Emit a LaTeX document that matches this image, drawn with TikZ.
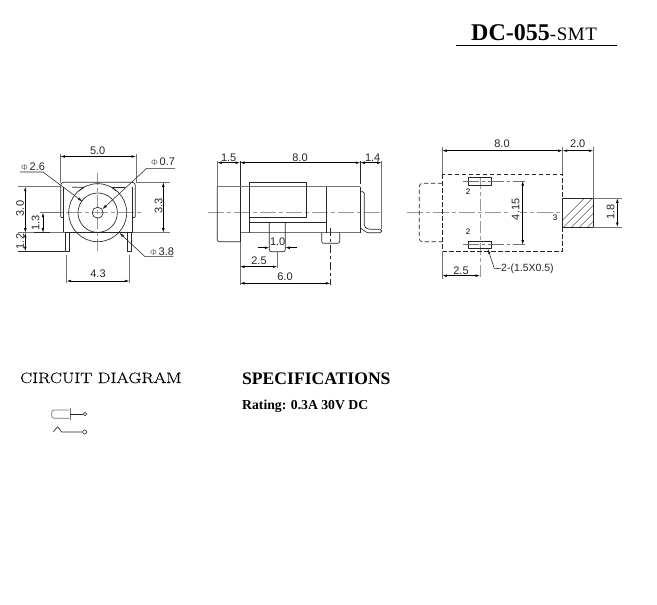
\documentclass[tikz,border=0pt]{standalone}
\usepackage{fontspec}
\setmainfont{Liberation Serif}
\newfontfamily\dimfont{Liberation Sans}
\newfontfamily\lmfont[FakeStretch=1.2,FakeBold=0.35]{Latin Modern Roman}
\usetikzlibrary{arrows.meta,patterns}
\definecolor{ink}{gray}{0.15}
\definecolor{ctr}{gray}{0.6}
\definecolor{ext}{gray}{0.45}
\tikzset{
  part/.style={draw=ink,line width=0.65pt,line join=round},
  partgray/.style={draw=ext,line width=0.9pt},
  center/.style={draw=ctr,line width=0.9pt,dash pattern=on 16pt off 3pt on 4pt off 3pt},
  extline/.style={draw=ext,line width=0.7pt},
  dimline/.style={draw=black,line width=0.55pt,{Latex[length=4.5pt,width=2.6pt]}-{Latex[length=4.5pt,width=2.6pt]}},
  leader/.style={draw=ink,line width=0.55pt,-{Latex[length=5pt,width=2.8pt]}},
  dashedpart/.style={draw=ink,line width=0.7pt,dash pattern=on 4.5pt off 2.5pt},
  lab/.style={font=\dimfont\fontsize{11}{12}\selectfont,text=ink,inner sep=0pt},
  tiny/.style={font=\dimfont\fontsize{8}{9}\selectfont,text=black,inner sep=0pt},
}
\begin{document}
\begin{tikzpicture}[x=1pt,y=-1pt]
\useasboundingbox[fill=white] (0,0) rectangle (657,605);

% ---- title
\node[anchor=base west,inner sep=0pt] (title) at (471,41) {\fontsize{24}{26}\selectfont\bfseries DC-055\fontsize{19}{20}\mdseries\addfontfeature{LetterSpace=3} -SMT};
\coordinate (tl) at (456,45.5); \coordinate (tr) at (617,45.5);
\draw[line width=1.8pt] (tl) -- (tr);

% ---- left view
\coordinate (C) at (97.7,212.7);
\draw[center] (40,212.7) -- (144,212.7);
\draw[center,dash pattern=on 12pt off 3pt on 4pt off 3pt] (97.7,173) -- (97.7,253);
\draw[part,rounded corners=3pt] (60.7,217) -- (60.7,182.3) -- (135.3,182.3) -- (135.3,217);
\draw[part] (60.7,217) -- (63,217) -- (63,186.7);
\draw[part] (63,186.7) -- (63,232.7) -- (132.7,232.7) -- (132.7,186.7);
\draw[part] (132.7,217) -- (135.3,217);
\draw[part] (72,187.3) -- (84,187.3) -- (79,191);
\draw[part] (111.7,187.3) -- (125,187.3);
\draw[part] (111.7,187.3) -- (116,191);
\draw[part] (65,232.7) -- (65,251) -- (69,251) -- (69,232.7);
\draw[part] (127.3,232.7) -- (127.3,251) -- (131.7,251) -- (131.7,232.7);
\draw[part] (C) circle (29);
\draw[part] (C) circle (19.7);
\draw[part] (C) circle (5.5);

\coordinate (a1) at (60.3,154); \coordinate (a2) at (60.3,183);
\coordinate (b1) at (136,154); \coordinate (b2) at (136,183);
\draw[extline] (a1) -- (a2) (b1) -- (b2);
\draw[dimline] (60.3,156.5) -- (136,156.5);
\node[lab] (d50) at (97.7,151) {5.0};

\draw[extline] (18,186.7) -- (60.3,186.7);
\draw[extline] (18,232.7) -- (65,232.7);
\draw[draw=ink,line width=0.7pt] (18,251.3) -- (65,251.3);
\draw[dimline] (25.3,186.7) -- (25.3,232.7);
\draw[dimline] (25.3,232.7) -- (25.3,251.3);
\node[lab,rotate=90] (d30) at (20,208.5) {3.0};
\node[lab,rotate=90] (d12) at (20,241.5) {1.2};
\draw[extline] (40,212.7) -- (60,212.7);
\draw[draw=ink,line width=0.9pt] (34,232.7) -- (50,232.7);
\draw[dimline] (43,212.7) -- (43,232.7);
\node[lab,rotate=90] (d13) at (35.7,222.7) {1.3};

\draw[extline] (136,182.3) -- (170,182.3);
\draw[extline] (133,232.7) -- (170,232.7);
\draw[dimline] (163.3,182.3) -- (163.3,232.7);
\node[lab,rotate=90] (d33) at (158.7,206) {3.3};

\draw[extline] (66.7,255) -- (66.7,282.7);
\draw[extline] (129.3,255) -- (129.3,282.7);
\draw[dimline] (66.7,281) -- (129.3,281);
\node[lab] (d43) at (98,274) {4.3};

\coordinate (p26a) at (20,172); \coordinate (p26b) at (43,172); \coordinate (p26c) at (82.7,201.7);
\draw[leader] (p26a) -- (p26b) -- (p26c);
\coordinate (p07a) at (175,168.3); \coordinate (p07b) at (146.7,168.3); \coordinate (p07c) at (102.3,209.3);
\draw[leader] (p07a) -- (p07b) -- (p07c);
\coordinate (p38a) at (173.3,256.7); \coordinate (p38b) at (145,256.7); \coordinate (p38c) at (119.3,232.7);
\draw[leader] (p38a) -- (p38b) -- (p38c);
\node[lab] (l26) at (33,166.7) {{\fontsize{8.5}{9}\selectfont\textcolor{ext}{Φ}}\,2.6};
\node[lab] (l07) at (163,162) {{\fontsize{8.5}{9}\selectfont\textcolor{ext}{Φ}}\,0.7};
\node[lab] (l38) at (162,251.7) {{\fontsize{8.5}{9}\selectfont\textcolor{ext}{Φ}}\,3.8};

% ---- middle view
\draw[center] (208,212.7) -- (380,212.7);
\draw[partgray] (217.3,186.7) -- (360.3,186.7);
\draw[partgray] (240,232.7) -- (360.3,232.7);
\draw[part,rounded corners=2pt] (217.3,186.7) -- (217.3,241.7) -- (240,241.7);
\draw[part] (240,186.7) -- (240,241.7);
\draw[part] (249.3,182.3) rectangle (306.3,217.3);
\draw[part] (249.3,217.3) -- (249.3,232.7);
\draw[part] (249.3,222.3) -- (326.7,222.3);
\draw[part] (326.7,186.7) -- (326.7,232.7);
\draw[part,rounded corners=2pt] (269.3,222.3) -- (269.3,251.7) -- (285.3,251.7) -- (285.3,222.3);
\draw[part,rounded corners=2pt] (321.7,232.7) -- (321.7,243.3) -- (339.7,243.3) -- (339.7,232.7);
\draw[part] (360.3,186.7) -- (360.3,232.7);
\draw[part,rounded corners=1.5pt] (360.7,191.7) -- (364.3,191.7) -- (364.3,226.7) -- (368.3,229.3) -- (381.7,229.3) -- (381.7,232.7) -- (366.7,232.7) -- (361,228.3);
\draw[draw=ink,line width=0.65pt,dash pattern=on 8pt off 3pt on 3pt off 3pt] (330.3,228) -- (330.3,285);

\draw[extline] (217.3,161) -- (217.3,186);
\draw[draw=ink,line width=0.8pt] (240,161) -- (240,186);
\draw[extline] (240,241.7) -- (240,285);
\draw[draw=ink,line width=0.7pt] (360.3,161) -- (360.3,184);
\draw[extline] (381.7,161) -- (381.7,229);
\draw[dimline] (217.3,162.7) -- (240,162.7);
\draw[dimline] (240,162.7) -- (360.3,162.7);
\draw[dimline] (360.3,162.7) -- (381.7,162.7);
\node[lab] (m15) at (228.7,157.3) {1.5};
\node[lab] (m80) at (300,157.3) {8.0};
\node[lab] (m14) at (372.7,157.3) {1.4};

\draw[draw=black,line width=0.55pt,-{Latex[length=4.5pt,width=2.6pt]}] (257.7,247.7) -- (269.3,247.7);
\draw[draw=black,line width=0.55pt,-{Latex[length=4.5pt,width=2.6pt]}] (297.3,247.7) -- (285.3,247.7);
\node[lab] (m10) at (277.7,241.7) {1.0};

\draw[extline] (277.3,251.7) -- (277.3,268);
\draw[dimline] (240,266.7) -- (277.3,266.7);
\node[lab] (m25) at (259,261) {2.5};
\draw[dimline] (240,283.3) -- (330.3,283.3);
\node[lab] (m60) at (285,276.7) {6.0};

% ---- right view
\draw[center] (406.7,212.7) -- (562,212.7);
\draw[center,dash pattern=on 12pt off 3pt on 4pt off 3pt] (480,177) -- (480,276.7);
\draw[dashedpart] (442.3,174.3) rectangle (562.7,251.3);
\draw[dashedpart,rounded corners=3pt] (442.3,183.3) -- (419.3,183.3) -- (419.3,241.7) -- (442.3,241.7);
\draw[part] (468.3,177.7) rectangle (491,185);
\draw[part] (468.3,241) rectangle (491,248.7);
\draw[ext,line width=0.7pt,dash pattern=on 16pt off 3pt on 3pt off 3pt] (463.3,181) -- (525,181);
\draw[ext,line width=0.7pt,dash pattern=on 16pt off 3pt on 3pt off 3pt] (463.3,244.7) -- (525,244.7);
\begin{scope}
\clip (562.7,198.3) rectangle (593.3,227);
\foreach \k in {-10,-2,...,70}
  \draw[ink,line width=0.4pt] (562.7+\k,230) -- (562.7+\k+35,195);
\end{scope}
\draw[part] (562.7,198.3) rectangle (593.3,227);

\draw[extline] (442.3,146.7) -- (442.3,174);
\draw[extline] (562.7,146.7) -- (562.7,174);
\draw[extline] (593.3,146.7) -- (593.3,198);
\draw[dimline] (442.3,150.7) -- (562.7,150.7);
\draw[dimline] (562.7,150.7) -- (593.3,150.7);
\node[lab] (r80) at (502,143.7) {8.0};
\node[lab] (r20) at (577.7,143.7) {2.0};

\draw[extline] (593.3,198.3) -- (621.7,198.3);
\draw[extline] (593.3,227) -- (621.7,227);
\draw[dimline] (617.3,198.3) -- (617.3,227);
\node[lab,rotate=90] (r18) at (610.7,211.7) {1.8};

\draw[dimline] (522.7,181) -- (522.7,244.7);
\node[lab,rotate=90,fill=white,inner sep=0.5pt] (r415) at (515.7,209.3) {4.15};
\node[tiny] (r2a) at (468,191.7) {2};
\node[tiny] (r2b) at (468,231.7) {2};
\node[tiny] (r3) at (555,218) {3};

\draw[extline] (442.3,251.3) -- (442.3,279);
\draw[dimline] (442.3,275.7) -- (480,275.7);
\node[lab] (r25) at (461,270.7) {2.5};

\node[lab,anchor=west,font=\dimfont\fontsize{10.5}{12}\selectfont] (padlab) at (501,268.7) {2-(1.5X0.5)};
\coordinate (pl1) at (494.3,268.3); \coordinate (pl2) at (487.7,248.7);
\draw[leader] (padlab.west) -- (pl1) -- (pl2);

% ---- headings
\node[anchor=base west,inner sep=0pt] (circ) at (20,383) {\lmfont\fontsize{15}{17}\selectfont CIRCUIT DIAGRAM};
\node[anchor=base west,inner sep=0pt] (spec) at (242,384) {\fontsize{17.6}{18}\selectfont\bfseries SPECIFICATIONS};
\node[anchor=base west,inner sep=0pt] (rate) at (242,409.5) {\fontsize{13.7}{14}\selectfont\bfseries Rating: 0.3A 30V DC};

% ---- circuit symbols
\draw[partgray,line width=0.7pt,rounded corners=2.5pt] (69.3,410) -- (51.7,410) -- (51.7,418.3) -- (69.3,418.3);
\draw[draw=ext,line width=1.2pt] (70.3,408.3) -- (70.3,420);
\node[circle,draw=ink,line width=0.6pt,minimum size=3.6pt,inner sep=0pt] (o1) at (85,414) {};
\draw[part] (70.3,414) -- (o1);
\node[circle,draw=ink,line width=0.6pt,minimum size=4pt,inner sep=0pt] (o2) at (84.7,432) {};
\coordinate (s1) at (53.3,431.7); \coordinate (s2) at (57.7,426.7); \coordinate (s3) at (61.7,432);
\draw[part] (s1) -- (s2) -- (s3) -- (o2);
\end{tikzpicture}
\end{document}
